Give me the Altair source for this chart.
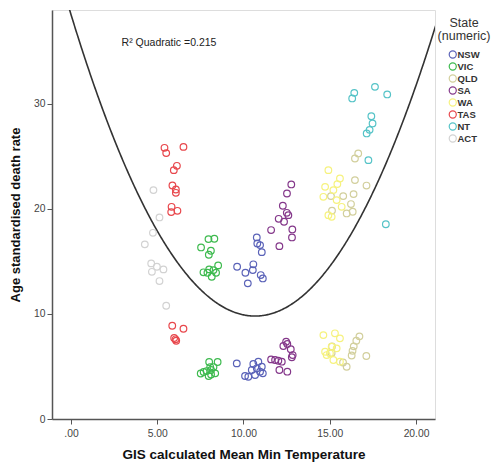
import altair as alt
import pandas as pd

# ---- data ----
states = ["NSW", "VIC", "QLD", "SA", "WA", "TAS", "NT", "ACT"]
colors = ["#5a62b8", "#3dba4e", "#d2cf9c", "#84378a", "#f6f27e", "#e8474c", "#55c3c7", "#d2d2d2"]

nsw_x = [9.63, 10.11, 10.25, 10.77, 10.80, 10.96, 11.06, 10.57, 10.54, 11.00, 11.12,
         9.61, 10.57, 10.86, 11.06, 10.77, 10.48, 10.09, 10.28, 10.67, 11.12, 10.96]
nsw_y = [14.48, 13.91, 12.90, 17.27, 16.70, 16.54, 15.87, 14.71, 14.16, 13.69, 13.37,
         5.29, 5.23, 5.45, 4.97, 4.82, 4.66, 4.09, 4.02, 4.18, 4.34, 4.50]

vic_x = [7.97, 8.31, 7.54, 8.11, 7.99, 8.53, 7.68, 8.01, 8.26, 8.41, 8.16, 7.91,
         8.01, 8.50, 7.52, 7.69, 7.86, 8.07, 8.26, 8.36, 8.12, 7.98, 8.12]
vic_y = [17.11, 17.14, 16.32, 16.00, 15.62, 14.61, 13.95, 14.23, 14.16, 13.91, 13.53, 13.91,
         5.42, 5.42, 4.33, 4.47, 4.56, 4.94, 4.94, 4.34, 4.23, 4.09, 4.66]

qld_x = [16.65, 16.46, 16.46, 17.13, 15.78, 16.38, 15.07, 16.23, 16.33, 15.98, 15.13,
         16.72, 16.54, 16.39, 16.32, 16.27, 17.12, 15.13, 15.11, 15.77, 15.98]
qld_y = [25.26, 24.78, 22.72, 22.20, 21.20, 21.39, 21.20, 20.44, 19.71, 19.55, 19.82,
         7.86, 7.44, 6.91, 6.48, 6.04, 5.99, 6.90, 6.27, 5.37, 4.97]

sa_x = [12.77, 12.52, 12.28, 12.51, 12.60, 12.04, 12.35, 11.60, 12.83, 12.81, 12.08,
        12.47, 12.54, 12.31, 12.74, 12.85, 12.80, 11.60, 12.02, 12.22, 11.83, 12.08, 12.54]
sa_y = [22.31, 21.45, 20.28, 19.61, 19.39, 19.04, 18.76, 17.97, 18.03, 17.27, 16.44,
        7.35, 7.13, 6.94, 6.63, 6.08, 5.87, 5.67, 5.54, 5.45, 5.61, 4.66, 4.50]

wa_x = [14.92, 14.73, 15.59, 15.21, 15.40, 14.92, 15.11, 15.69, 14.63, 15.44,
        14.63, 15.30, 15.59, 15.11, 14.82, 15.21, 15.59, 15.01, 14.73, 15.40]
wa_y = [23.67, 22.08, 22.88, 21.77, 20.82, 19.39, 19.23, 20.18, 21.13, 22.34,
        7.98, 8.15, 7.67, 6.87, 6.08, 5.61, 5.45, 6.25, 6.40, 6.72]

tas_x = [5.42, 5.52, 6.52, 6.14, 5.96, 5.88, 6.08, 6.08, 5.83, 5.81, 6.17,
         5.87, 6.52, 5.98, 6.10, 6.06]
tas_y = [25.79, 25.29, 25.88, 24.08, 23.67, 22.21, 21.83, 21.51, 20.18, 19.68, 19.80,
         8.87, 8.58, 7.70, 7.44, 7.58]

nt_x = [16.42, 16.30, 17.62, 18.33, 17.41, 17.48, 17.31, 17.14, 17.24, 18.25]
nt_y = [31.02, 30.49, 31.59, 30.87, 28.80, 28.11, 27.50, 27.16, 24.62, 18.52]

act_x = [4.78, 5.13, 4.75, 4.28, 4.65, 4.98, 5.36, 4.69, 5.13, 5.52]
act_y = [21.77, 19.17, 17.71, 16.61, 14.80, 14.48, 14.23, 14.00, 13.12, 10.77]

# quadratic fit: y = a*(x - h)^2 + k
fit_a = 0.252
fit_h = 10.67
fit_k = 9.79
r2_label = "R² Quadratic =0.215"

x_domain = [-1.1, 21.1]
y_domain = [0, 38.9]

series = {
    "NSW": (nsw_x, nsw_y), "VIC": (vic_x, vic_y), "QLD": (qld_x, qld_y),
    "SA": (sa_x, sa_y), "WA": (wa_x, wa_y), "TAS": (tas_x, tas_y),
    "NT": (nt_x, nt_y), "ACT": (act_x, act_y),
}
rows = []
for st, (xs, ys) in series.items():
    for xv, yv in zip(xs, ys):
        rows.append({"state": st, "temp": xv, "rate": yv})
df = pd.DataFrame(rows)

FONT = "Liberation Sans"

xscale = alt.Scale(domain=x_domain, nice=False, zero=False)
yscale = alt.Scale(domain=y_domain, nice=False)

xaxis = alt.Axis(values=[0, 5, 10, 15, 20],
                 labelExpr="datum.value == 0 ? '.00' : format(datum.value, '.2f')",
                 title="GIS calculated Mean Min Temperature", grid=False,
                 tickSize=5, tickColor="#555", domainColor="#555", domainWidth=1.5,
                 labelFontSize=10.3, labelColor="#444", labelPadding=4,
                 titleFontSize=13.5, titleFontWeight="bold", titlePadding=9, titleColor="#111")
yaxis = alt.Axis(values=[0, 10, 20, 30], title="Age standardised death rate", grid=False,
                 tickSize=5, tickColor="#555", domainColor="#555", domainWidth=1.5,
                 labelFontSize=10.3, labelColor="#444", labelPadding=2,
                 titleFontSize=13, titleFontWeight="bold", titlePadding=11, titleColor="#111")

points = alt.Chart(df).mark_point(shape="circle", filled=False, size=44, strokeWidth=1.2, opacity=1).encode(
    x=alt.X("temp:Q", scale=xscale, axis=xaxis),
    y=alt.Y("rate:Q", scale=yscale, axis=yaxis),
    color=alt.Color("state:N", scale=alt.Scale(domain=states, range=colors),
                    legend=alt.Legend(title=["State", "(numeric)"], orient="none",
                                      legendX=386, legendY=7,
                                      titleAlign="center", titleAnchor="middle",
                                      titleFontSize=12.5, titleFontWeight="normal",
                                      titleLineHeight=12.5, titleColor="#333", titlePadding=8,
                                      labelFontSize=9.5, labelFontWeight="bold", labelColor="#333",
                                      symbolType="circle", symbolFillColor="transparent",
                                      symbolStrokeWidth=1.2, symbolSize=50, rowPadding=2,
                                      clipHeight=9, labelOffset=0)),
)

fit = alt.Chart(alt.sequence(start=x_domain[0], stop=x_domain[1] + 0.05, step=0.05, as_="temp")
).transform_calculate(
    rate=f"{fit_a} * pow(datum.temp - {fit_h}, 2) + {fit_k}"
).mark_line(color="#333", strokeWidth=1.6, clip=True).encode(
    x=alt.X("temp:Q", scale=xscale),
    y=alt.Y("rate:Q", scale=yscale),
)

label = alt.Chart(pd.DataFrame({"t": [r2_label]})).mark_text(
    fontSize=10.5, color="#222", font=FONT, align="center"
).encode(x=alt.value(117), y=alt.value(33), text="t:N")

chart = alt.layer(fit, points, label).properties(
    width=383, height=409,
    padding={"left": 52, "top": 10, "right": 63, "bottom": 46},
    autosize=alt.AutoSizeParams(type="none"),
    background="white",
).configure_view(
    fill="#f0f0f0", stroke="#777", strokeWidth=1.2
).configure(font=FONT)

chart.save("out.html", embed_options={"renderer": "svg", "actions": False})
